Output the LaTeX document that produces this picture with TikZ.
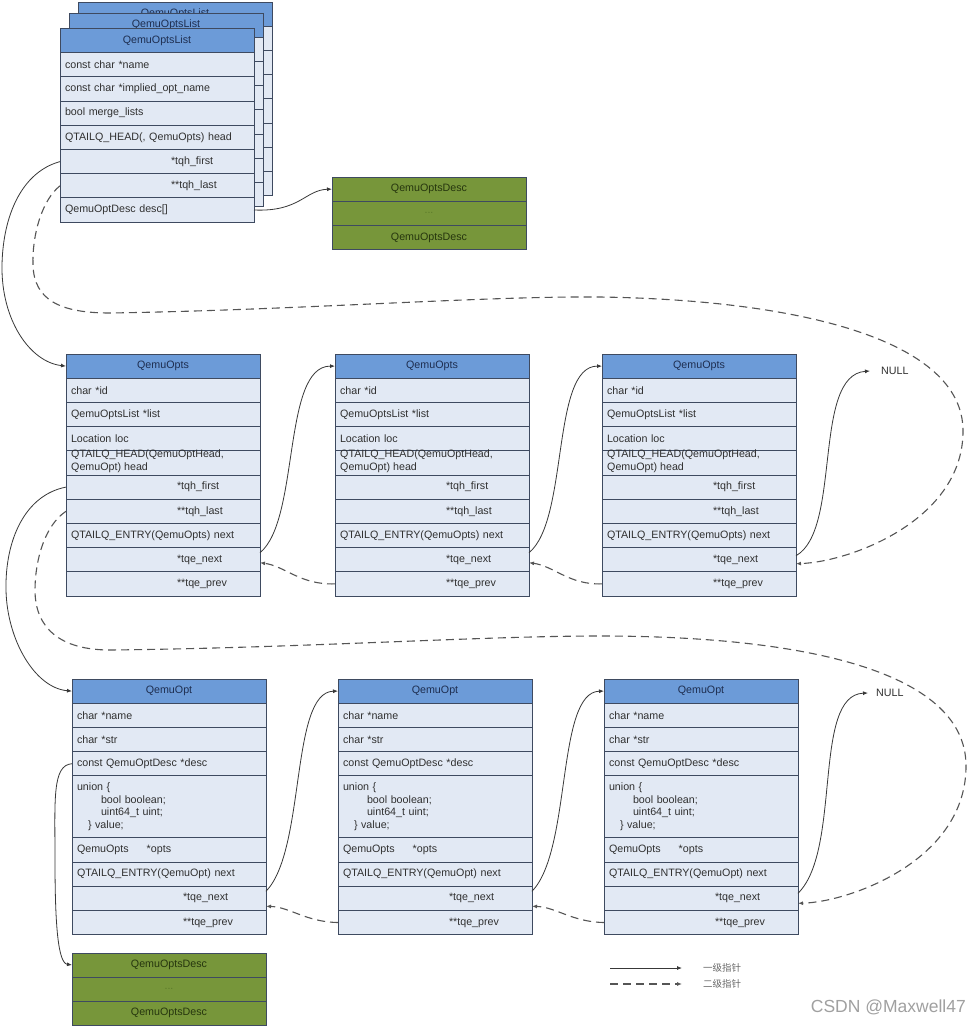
\documentclass[tikz,border=0pt]{standalone}
\usepackage{fontspec}
\setmainfont{Liberation Sans}
\newfontfamily\cjkfont{Noto Sans CJK SC}
\usetikzlibrary{arrows.meta}
\definecolor{hdrblue}{HTML}{6C9BD8}
\definecolor{bodyblue}{HTML}{E2E9F4}
\definecolor{edgecol}{HTML}{3E4A60}
\definecolor{greenfill}{HTML}{77963A}
\definecolor{greentext}{HTML}{26360E}
\definecolor{greendots}{HTML}{5C7A2A}
\definecolor{textcol}{HTML}{303030}
\definecolor{hdrtext}{HTML}{1E2E50}
\definecolor{linecol}{HTML}{383838}
\definecolor{dashcol}{HTML}{555555}
\definecolor{legcol}{HTML}{6A6A6A}
\definecolor{wmcol}{HTML}{A0A0A0}
\newcommand{\rowbelow}[4][cell]{\node[#1] (#3) at (#2.south west) {#4};}
\newcommand{\rfield}[1]{\hspace*{106pt}#1}
\begin{document}
\begin{tikzpicture}[x=1pt,y=-1pt,
  base/.style={draw=edgecol, line width=0.9pt, minimum height=24.2pt, inner ysep=0pt, inner xsep=5pt, outer sep=0pt,
    anchor=north west, font=\fontsize{10.7}{12.5}\selectfont, text width=184pt},
  cell/.style={base, fill=bodyblue, text=textcol, align=left},
  hdr/.style={base, fill=hdrblue, text=hdrtext, align=center},
  grn/.style={base, fill=greenfill, text=greentext, align=center},
  lbl/.style={inner sep=0pt, text=textcol, align=left, font=\fontsize{10.7}{12.5}\selectfont},
  ptr/.style={draw=linecol, line width=0.8pt, -{Latex[length=5pt,width=4pt]}},
  dptr/.style={ptr, draw=dashcol, line width=1.1pt, dash pattern=on 8pt off 5pt},
  legtext/.style={inner sep=0pt, text=legcol, font=\cjkfont\fontsize{9.5}{11}\selectfont, anchor=west}
]
\useasboundingbox (0,0) rectangle (970,1026);
\path[fill=white] (0,0) rectangle (970,1026);

% ---------- QemuOptsList stack ----------
\node[hdr] (b3h) at (78,2) {QemuOptsList};
\rowbelow{b3h}{b3a}{}
\rowbelow{b3a}{b3b}{}
\rowbelow{b3b}{b3c}{}
\rowbelow{b3c}{b3d}{}
\rowbelow{b3d}{b3e}{}
\rowbelow{b3e}{b3f}{}
\rowbelow{b3f}{b3g}{}

\node[hdr] (b2h) at (69,13) {QemuOptsList};
\rowbelow{b2h}{b2a}{}
\rowbelow{b2a}{b2b}{}
\rowbelow{b2b}{b2c}{}
\rowbelow{b2c}{b2d}{}
\rowbelow{b2d}{b2e}{}
\rowbelow{b2e}{b2f}{}
\rowbelow{b2f}{b2g}{}

\node[hdr] (lh) at (60,28.5) {QemuOptsList};
\rowbelow{lh}{ln}{const char *name}
\rowbelow{ln}{li}{const char *implied\_opt\_name}
\rowbelow{li}{lm}{bool merge\_lists}
\rowbelow{lm}{lq}{QTAILQ\_HEAD(, QemuOpts) head}
\rowbelow{lq}{lf}{\rfield{*tqh\_first}}
\rowbelow{lf}{ll}{\rfield{**tqh\_last}}
\rowbelow{ll}{ld}{QemuOptDesc desc[]}

% ---------- QemuOptsDesc (top) ----------
\node[grn] (d1h) at (332,177) {QemuOptsDesc};
\rowbelow[grn]{d1h}{d1m}{\textcolor{greendots}{...}}
\rowbelow[grn]{d1m}{d1t}{QemuOptsDesc}

% ---------- QemuOpts boxes ----------
\node[hdr] (o1h) at (66,354) {QemuOpts};
\rowbelow{o1h}{o1i}{char *id}
\rowbelow{o1i}{o1s}{QemuOptsList *list}
\rowbelow{o1s}{o1c}{Location loc}
\rowbelow{o1c}{o1q}{}
\node[lbl, anchor=north west] (o1qt) at ([xshift=5pt,yshift=1pt]o1q.north west) {QTAILQ\_HEAD(QemuOptHead,\\QemuOpt) head};
\rowbelow{o1q}{o1f}{\rfield{*tqh\_first}}
\rowbelow{o1f}{o1l}{\rfield{**tqh\_last}}
\rowbelow{o1l}{o1e}{QTAILQ\_ENTRY(QemuOpts) next}
\rowbelow{o1e}{o1n}{\rfield{*tqe\_next}}
\rowbelow{o1n}{o1p}{\rfield{**tqe\_prev}}

\node[hdr] (o2h) at (335,354) {QemuOpts};
\rowbelow{o2h}{o2i}{char *id}
\rowbelow{o2i}{o2s}{QemuOptsList *list}
\rowbelow{o2s}{o2c}{Location loc}
\rowbelow{o2c}{o2q}{}
\node[lbl, anchor=north west] (o2qt) at ([xshift=5pt,yshift=1pt]o2q.north west) {QTAILQ\_HEAD(QemuOptHead,\\QemuOpt) head};
\rowbelow{o2q}{o2f}{\rfield{*tqh\_first}}
\rowbelow{o2f}{o2l}{\rfield{**tqh\_last}}
\rowbelow{o2l}{o2e}{QTAILQ\_ENTRY(QemuOpts) next}
\rowbelow{o2e}{o2n}{\rfield{*tqe\_next}}
\rowbelow{o2n}{o2p}{\rfield{**tqe\_prev}}

\node[hdr] (o3h) at (602,354) {QemuOpts};
\rowbelow{o3h}{o3i}{char *id}
\rowbelow{o3i}{o3s}{QemuOptsList *list}
\rowbelow{o3s}{o3c}{Location loc}
\rowbelow{o3c}{o3q}{}
\node[lbl, anchor=north west] (o3qt) at ([xshift=5pt,yshift=1pt]o3q.north west) {QTAILQ\_HEAD(QemuOptHead,\\QemuOpt) head};
\rowbelow{o3q}{o3f}{\rfield{*tqh\_first}}
\rowbelow{o3f}{o3l}{\rfield{**tqh\_last}}
\rowbelow{o3l}{o3e}{QTAILQ\_ENTRY(QemuOpts) next}
\rowbelow{o3e}{o3n}{\rfield{*tqe\_next}}
\rowbelow{o3n}{o3p}{\rfield{**tqe\_prev}}

% ---------- QemuOpt boxes ----------
\node[hdr] (p1h) at (72,679) {QemuOpt};
\rowbelow{p1h}{p1a}{char *name}
\rowbelow{p1a}{p1s}{char *str}
\rowbelow{p1s}{p1d}{const QemuOptDesc *desc}
\rowbelow[cell,minimum height=62pt]{p1d}{p1u}{union \{\\\hspace*{24pt}bool boolean;\\\hspace*{24pt}uint64\_t uint;\\\hspace*{11pt}\} value;}
\rowbelow{p1u}{p1o}{QemuOpts\hspace*{18pt}*opts}
\rowbelow{p1o}{p1e}{QTAILQ\_ENTRY(QemuOpt) next}
\rowbelow{p1e}{p1n}{\rfield{*tqe\_next}}
\rowbelow{p1n}{p1p}{\rfield{**tqe\_prev}}

\node[hdr] (p2h) at (338,679) {QemuOpt};
\rowbelow{p2h}{p2a}{char *name}
\rowbelow{p2a}{p2s}{char *str}
\rowbelow{p2s}{p2d}{const QemuOptDesc *desc}
\rowbelow[cell,minimum height=62pt]{p2d}{p2u}{union \{\\\hspace*{24pt}bool boolean;\\\hspace*{24pt}uint64\_t uint;\\\hspace*{11pt}\} value;}
\rowbelow{p2u}{p2o}{QemuOpts\hspace*{18pt}*opts}
\rowbelow{p2o}{p2e}{QTAILQ\_ENTRY(QemuOpt) next}
\rowbelow{p2e}{p2n}{\rfield{*tqe\_next}}
\rowbelow{p2n}{p2p}{\rfield{**tqe\_prev}}

\node[hdr] (p3h) at (604,679) {QemuOpt};
\rowbelow{p3h}{p3a}{char *name}
\rowbelow{p3a}{p3s}{char *str}
\rowbelow{p3s}{p3d}{const QemuOptDesc *desc}
\rowbelow[cell,minimum height=62pt]{p3d}{p3u}{union \{\\\hspace*{24pt}bool boolean;\\\hspace*{24pt}uint64\_t uint;\\\hspace*{11pt}\} value;}
\rowbelow{p3u}{p3o}{QemuOpts\hspace*{18pt}*opts}
\rowbelow{p3o}{p3e}{QTAILQ\_ENTRY(QemuOpt) next}
\rowbelow{p3e}{p3n}{\rfield{*tqe\_next}}
\rowbelow{p3n}{p3p}{\rfield{**tqe\_prev}}

% ---------- QemuOptsDesc (bottom) ----------
\node[grn, minimum height=24pt] (q1h) at (72,953) {QemuOptsDesc};
\rowbelow[grn, minimum height=24pt]{q1h}{q1m}{\textcolor{greendots}{...}}
\rowbelow[grn, minimum height=24pt]{q1m}{q1t}{QemuOptsDesc}

% ---------- NULL labels ----------
\node[lbl, anchor=west, text=textcol] (null1) at (881,371) {NULL};
\node[lbl, anchor=west, text=textcol] (null2) at (876,693) {NULL};

% ---------- connectors: top ----------
\draw[ptr] (lf.west) .. controls (22,172) and (3,215) .. (2,265)
  .. controls (1,320) and (30,362) .. (o1h.west);
\draw[dptr] (ll.west) .. controls (42,200) and (32,235) .. (33,265)
  .. controls (34,300) and (60,313) .. (110,313)
  .. controls (300,310) and (480,296) .. (600,297)
  .. controls (800,300) and (962,340) .. (963,430)
  .. controls (964,520) and (850,562) .. ([yshift=-4pt]o3n.east);
\draw[ptr] (ld.east) .. controls (300,212) and (305,190) .. (d1h.west);

% QemuOpts chain
\draw[ptr] ([yshift=7pt]o1n.east) .. controls (300,520) and (282,366) .. (o2h.west);
\draw[dptr] (o2p.west) .. controls (300,585) and (285,566) .. ([yshift=-3pt]o1n.east);
\draw[ptr] ([yshift=7pt]o2n.east) .. controls (569,520) and (551,366) .. (o3h.west);
\draw[dptr] (o3p.west) .. controls (569,585) and (554,566) .. ([yshift=-3pt]o2n.east);
\draw[ptr] ([yshift=4pt]o3n.east) .. controls (842,530) and (812,375) .. ([xshift=-11pt]null1.west);

% ---------- connectors: middle ----------
\draw[ptr] (o1f.west) .. controls (25,495) and (5,540) .. (6,590)
  .. controls (7,640) and (35,688) .. (p1h.west);
\draw[dptr] (o1l.west) .. controls (45,525) and (35,560) .. (35,590)
  .. controls (35,628) and (60,650) .. (110,650)
  .. controls (300,648) and (480,636) .. (600,636)
  .. controls (800,636) and (965,670) .. (966,765)
  .. controls (967,860) and (850,902) .. ([yshift=-5pt]p3n.east);

% QemuOpt chain
\draw[ptr] ([yshift=7pt]p1n.east) .. controls (306,850) and (290,692) .. (p2h.west);
\draw[dptr] (p2p.west) .. controls (306,922) and (290,907) .. ([yshift=-8pt]p1n.east);
\draw[ptr] ([yshift=7pt]p2n.east) .. controls (572,850) and (556,692) .. (p3h.west);
\draw[dptr] (p3p.west) .. controls (572,922) and (556,907) .. ([yshift=-8pt]p2n.east);
\draw[ptr] ([yshift=5pt]p3n.east) .. controls (842,850) and (812,695) .. ([xshift=-8pt]null2.west);

% desc pointer to bottom QemuOptsDesc
\draw[ptr] (p1d.west) .. controls (52,765) and (55,800) .. (55,860)
  .. controls (55,925) and (58,963) .. (q1h.west);

% ---------- legend ----------
\coordinate (lg1a) at (610,968);
\coordinate (lg1b) at (682,968);
\coordinate (lg2a) at (610,984);
\coordinate (lg2b) at (682,984);
\draw[ptr] (lg1a) -- (lg1b);
\draw[dptr] (lg2a) -- (lg2b);
\node[legtext] (lg1t) at (703,968) {一级指针};
\node[legtext] (lg2t) at (703,984) {二级指针};

% ---------- watermark ----------
\node[inner sep=0pt, anchor=east, text=wmcol, font=\fontsize{17.5}{20}\selectfont] (wm) at (966,1007) {CSDN @Maxwell47};
\end{tikzpicture}
\end{document}
